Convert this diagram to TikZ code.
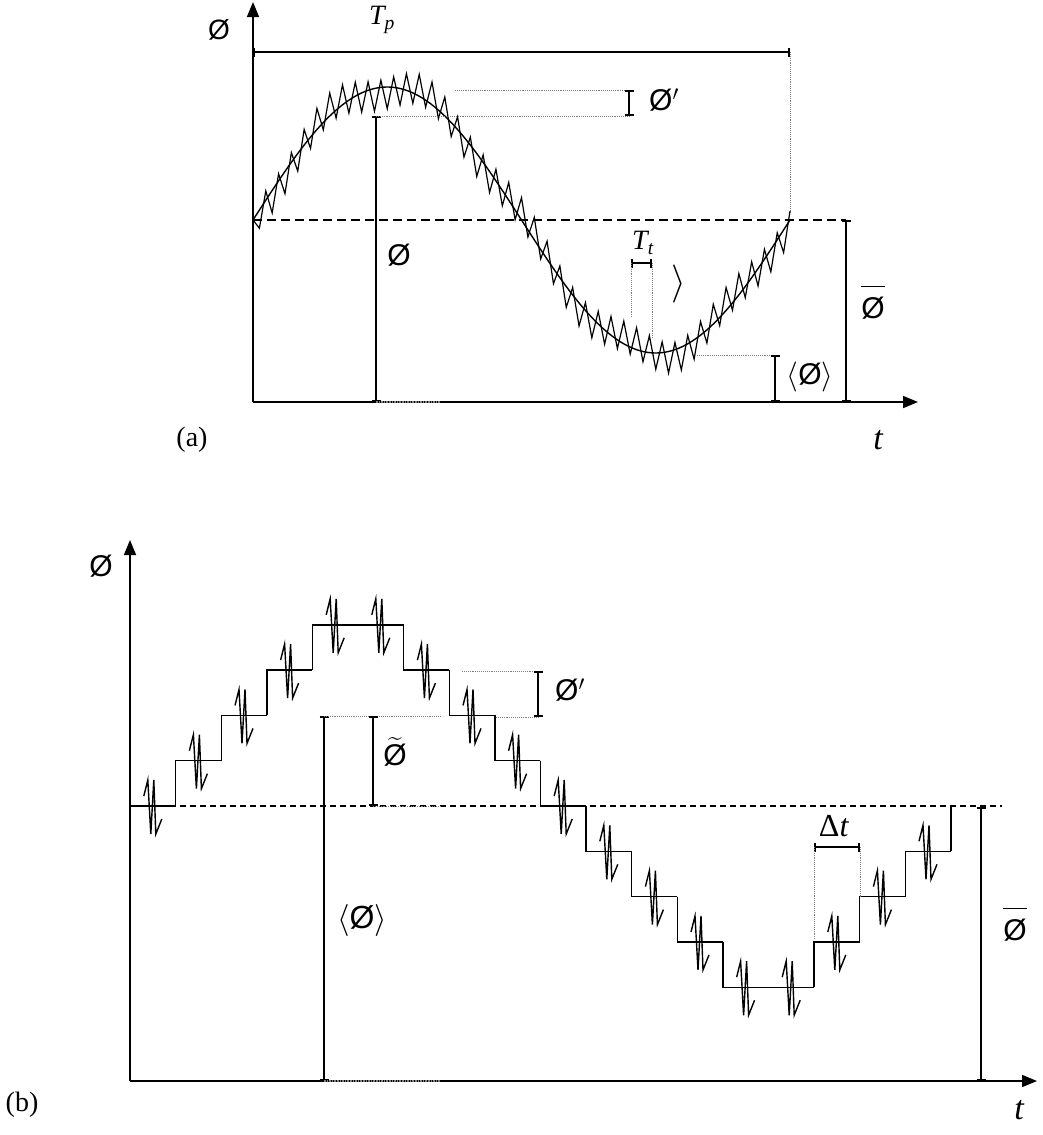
\RequirePackage{fix-cm}
\documentclass[tikz,border=0pt]{standalone}
\usepackage{fontspec}
\setmainfont{Liberation Serif}
\newfontfamily\arialfont{Liberation Sans}
\usepackage{amsmath}
\usepackage{tikz}
\usetikzlibrary{arrows.meta,positioning}

\newcommand{\phisym}{{\arialfont Ø}}
\newcommand{\phibar}{$\overline{\mbox{\phisym}\rule{0pt}{0.95em}}$}

\begin{document}
\begin{tikzpicture}[x=1pt, y=-1pt,
  axis/.style={line width=1.6pt, -{Triangle[length=15pt,width=12pt]}},
  curve/.style={line width=1.4pt},
  noise/.style={line width=1.2pt},
  stair/.style={line width=1.4pt},
  jag/.style={line width=1.4pt},
  dim/.style={line width=2.2pt, {Bar[width=9pt]}-{Bar[width=9pt]}},
  guide/.style={densely dotted, gray, line width=0.9pt},
  mean/.style={dash pattern=on 9pt off 5pt, line width=1.4pt},
  lbl/.style={font=\fontsize{30}{34}\selectfont\arialfont, inner sep=0pt},
  tlbl/.style={font=\fontsize{34}{38}\selectfont\itshape, inner sep=0pt}
]
\fill[white] (0,0) rectangle (1043,1135);
\useasboundingbox (0,0) rectangle (1043,1135);

% ---------------- (a) ----------------
% Axes
\coordinate (oA) at (253,402);
\coordinate (yA) at (253,2);
\coordinate (xA) at (918,402);
\draw[axis] (oA) -- (yA);
\draw[axis] (oA) -- (xA);

% Mean level and period
\coordinate (mA0) at (253,220);
\coordinate (mA1) at (846,220);
\draw[mean] (mA0) -- (mA1);
\coordinate (tpL) at (253,52);
\coordinate (tpR) at (790,52);
\coordinate (tpD) at (790,212);
\draw[dim, line width=1.8pt] (tpL) -- (tpR);
\draw[guide] (tpR) -- (tpD);

% Mean signal and fluctuations
\draw[curve] plot[domain=253:790, samples=120, smooth] (\x, {220-133*sin(0.67039*(\x-253))});
\draw[noise] (mA0) -- plot[domain=1:84, samples=84]
  ({253+6.393*\x}, {220-133*sin(4.2857*\x)-cos(180*\x)*(15+8*sin(157*\x))});

% Amplitudes
\coordinate (pkA) at (376,116);
\coordinate (pkB) at (376,402);
\coordinate (pkC) at (440,402);
\draw[dim] (pkB) -- (pkA);
\draw[guide, line width=1.6pt] (pkB) -- (pkC);
\coordinate (fpT) at (629,90);
\coordinate (fpB) at (629,116);
\coordinate (fpL) at (455,90);
\draw[guide] (fpL) -- (fpT);
\draw[guide] (pkA) -- (fpB);
\draw[dim, line width=1.8pt] (fpT) -- (fpB);

% Sampling interval
\coordinate (ttL) at (631,263);
\coordinate (ttR) at (652,263);
\draw[dim, line width=1.8pt] (ttL) -- (ttR);
\draw[guide] (ttL) -- (631,318);
\draw[guide] (ttR) -- (652,338);

% Trough and mean brackets
\coordinate (trA) at (697,355);
\coordinate (avT) at (775,355);
\coordinate (avB) at (775,402);
\draw[guide] (trA) -- (avT);
\draw[dim, line width=1.8pt] (avT) -- (avB);
\coordinate (brT) at (846,220);
\coordinate (brB) at (846,402);
\draw[dim, line width=1.8pt] (brT) -- (brB);

% Labels
\node[lbl, font=\fontsize{28}{32}\selectfont\arialfont] (phiA) at (219,30) {\phisym};
\node[tlbl, font=\fontsize{28}{32}\selectfont\itshape] (tpLab) at (382,20) {T\textsubscript{p}};
\node[lbl] (phipA) at (664,100) {\phisym$^{\prime}$};
\node[lbl] (phiA2) at (399,255) {\phisym};
\node[tlbl, font=\fontsize{28}{32}\selectfont\itshape] (ttLab) at (643,243) {T\textsubscript{t}};
\node[lbl, font=\fontsize{38}{42}\selectfont] (angA) at (679,284) {$\rangle$};
\node[lbl] (avLabA) at (810,377) {$\left\langle\mbox{\phisym}\right\rangle$};
\node[lbl] (brLabA) at (873,302) {\phibar};
\node[tlbl] (tA) at (878,440) {t};
\node[font=\fontsize{28}{32}\selectfont, inner sep=0pt] (labA) at (192,440) {(a)};

% ---------------- (b) ----------------
% Axes
\coordinate (oB) at (130,1081);
\coordinate (yB) at (130,540);
\coordinate (xB) at (1037,1081);
\draw[axis] (oB) -- (yB);
\draw[axis] (oB) -- (xB);

% Mean level
\coordinate (mB0) at (130,806);
\coordinate (mB1) at (1002,806);
\draw[mean, dash pattern=on 6pt off 4pt, line width=1.1pt] (mB0) -- (mB1);

% Sampled staircase with fluctuations
\foreach \lv [count=\k from 0, remember=\lv as \pv (initially 0)] in {0,1,2,3,4,4,3,2,1,0,-1,-2,-3,-4,-4,-3,-2,-1}{
  \draw[stair] ({130+45.6*\k},{806-45.3*(\pv)}) |- ({130+45.6*(\k+1)},{806-45.3*(\lv)});
  \draw[jag] ({130+45.6*(\k+0.5)},{806-45.3*(\lv)}) ++(-9,-10) -- ++(4,-16) -- ++(3,54) -- ++(3,-54) -- ++(2,54) -- ++(6,-15);
}
\draw[stair] (950.8,851.3) -- (950.8,806);

% Amplitudes
\coordinate (pkD) at (324,716);
\coordinate (pkE) at (324,1081);
\coordinate (pkF) at (440,1081);
\draw[dim] (pkE) -- (pkD);
\draw[guide, line width=1.6pt] (pkE) -- (pkF);
\coordinate (tiT) at (373,716);
\coordinate (tiB) at (373,806);
\coordinate (tiR) at (440,716);
\coordinate (tiS) at (440,806);
\draw[guide] (pkD) -- (tiR);
\draw[guide] (tiB) -- (tiS);
\draw[dim, line width=1.8pt] (tiT) -- (tiB);
\coordinate (fqT) at (538,671);
\coordinate (fqB) at (538,717);
\draw[guide] (462,671) -- (fqT);
\draw[guide] (496,717) -- (fqB);
\draw[dim, line width=1.8pt] (fqT) -- (fqB);

% Step width
\coordinate (dtL) at (814,847);
\coordinate (dtR) at (860,847);
\draw[dim, line width=1.8pt] (dtL) -- (dtR);
\draw[guide] (dtL) -- (814,940);
\draw[guide] (dtR) -- (860,897);

% Mean bracket
\coordinate (bqT) at (981,807);
\coordinate (bqB) at (981,1081);
\draw[dim, line width=1.8pt] (bqT) -- (bqB);

% Labels
\node[lbl] (phiB) at (101,566) {\phisym};
\node[lbl] (phipB) at (570,690) {\phisym$^{\prime}$};
\node[lbl] (tilB) at (395,752) {$\widetilde{\mbox{\phisym}}$};
\node[font=\fontsize{32}{36}\selectfont, inner sep=0pt] (dtLab) at (834,826) {Δ\textit{t}};
\node[lbl, font=\fontsize{32}{36}\selectfont\arialfont] (avLabB) at (362,920) {$\left\langle\mbox{\phisym}\right\rangle$};
\node[lbl] (brLabB) at (1015,924) {\phibar};
\node[tlbl] (tB) at (1019,1110) {t};
\node[font=\fontsize{28}{32}\selectfont, inner sep=0pt] (labB) at (22,1105) {(b)};
\end{tikzpicture}
\end{document}
